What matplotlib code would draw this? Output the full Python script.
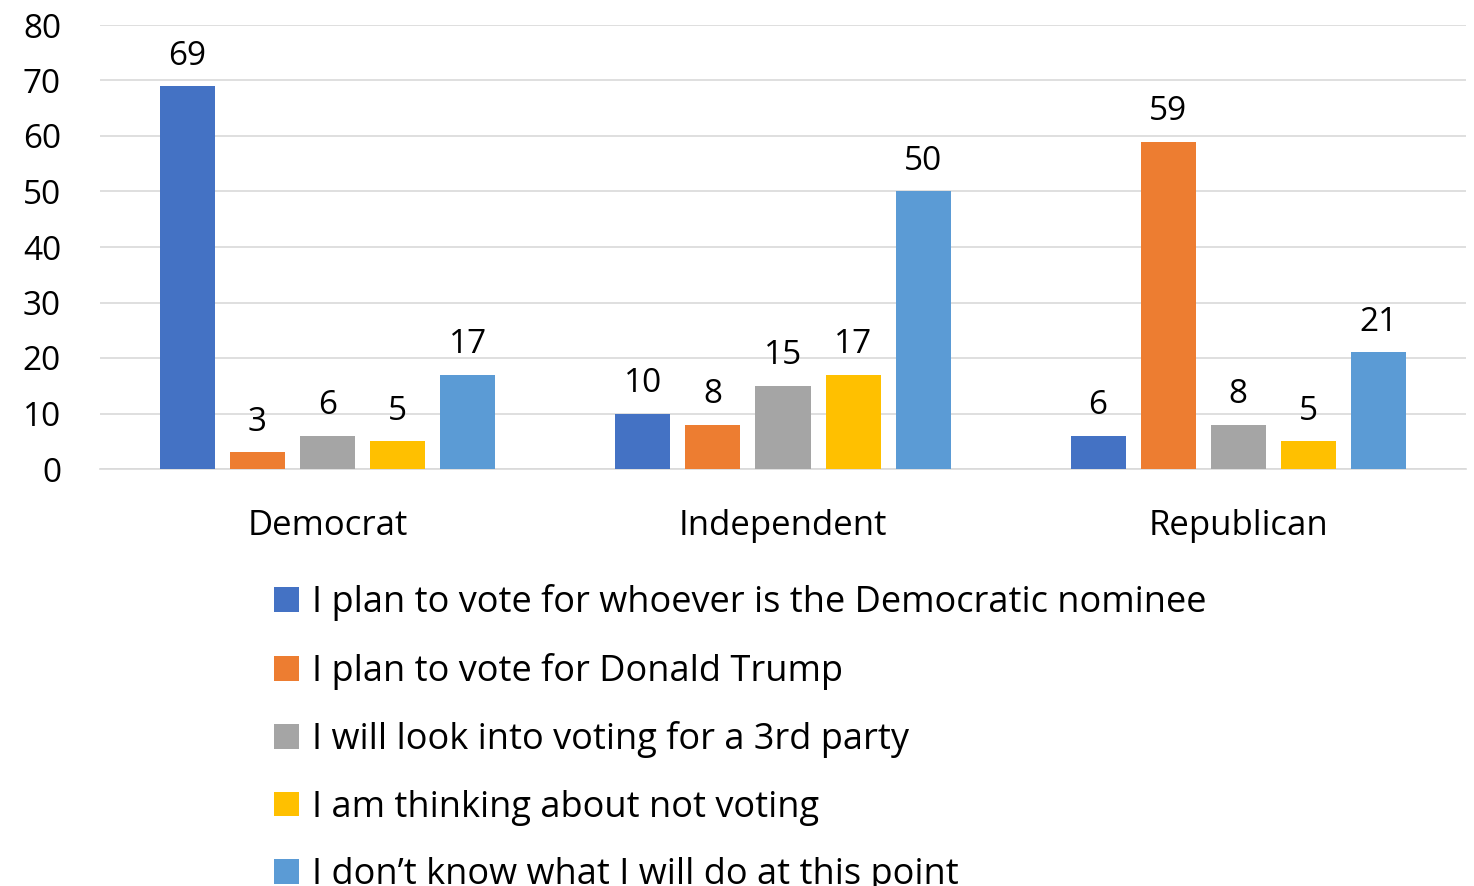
import matplotlib
matplotlib.use("Agg")
import matplotlib.pyplot as plt
import numpy as np
from matplotlib.patches import Patch

plt.rcParams['font.family'] = ['Open Sans', 'DejaVu Sans']

categories = ["Democrat", "Independent", "Republican"]
series_names = [
    "I plan to vote for whoever is the Democratic nominee",
    "I plan to vote for Donald Trump",
    "I will look into voting for a 3rd party",
    "I am thinking about not voting",
    "I don\u2019t know what I will do at this point",
]
values = [
    [69, 10, 6],
    [3, 8, 59],
    [6, 15, 8],
    [5, 17, 5],
    [17, 50, 21],
]
colors = ["#4472C4", "#ED7D31", "#A5A5A5", "#FFC000", "#5B9BD5"]
yticks = [0, 10, 20, 30, 40, 50, 60, 70, 80]

fig = plt.figure(figsize=(14.74, 8.86), dpi=100)
ax = fig.add_axes([100/1474, 1-469/886, (1466-100)/1474, (469-25)/886])

x = np.arange(len(categories))
step = 0.154
width = 0.121
for i, (name, vals, c) in enumerate(zip(series_names, values, colors)):
    pos = x + (i - 2) * step
    ax.bar(pos, vals, width=width, color=c, label=name, zorder=3)
    for xp, v in zip(pos, vals):
        ax.text(xp, v + 2.4, str(v), ha='center', va='bottom', fontsize=24, color='#000000')

ax.set_xlim(-0.5, 2.5)
ax.set_ylim(0, 80)
ax.set_yticks(yticks)
ax.set_yticklabels([str(t) for t in yticks], fontsize=24)
ax.set_xticks(x)
ax.set_xticklabels(categories, fontsize=25)
ax.tick_params(axis='both', length=0)
ax.tick_params(axis='x', pad=29)
ax.tick_params(axis='y', pad=28)
ax.grid(axis='y', color='#D9D9D9', linewidth=1.2, zorder=0)
for s in ['top', 'right', 'left']:
    ax.spines[s].set_visible(False)
ax.spines['bottom'].set_color('#D9D9D9')
ax.spines['bottom'].set_linewidth(1.2)

handles = [Patch(facecolor=c, edgecolor='none') for c in colors]
fig.legend(handles, series_names, loc='upper left',
           bbox_to_anchor=(260/1474, 1-570/886), frameon=False,
           fontsize=26, handlelength=0.68, handleheight=0.68,
           handletextpad=0.35, labelspacing=0.87, borderaxespad=0)

fig.savefig("out.png", dpi=100)
